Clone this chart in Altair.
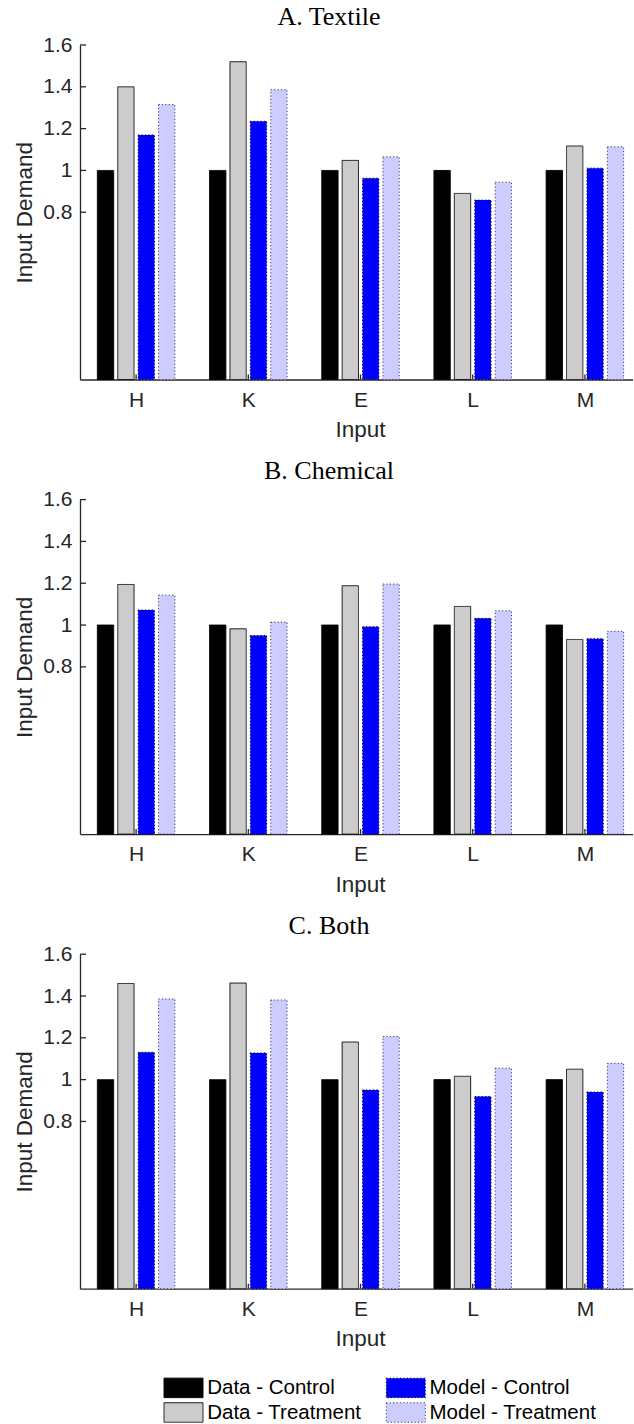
import altair as alt
import pandas as pd

inputs = ["H", "K", "E", "L", "M"]
series = ["Data - Control", "Data - Treatment", "Model - Control", "Model - Treatment"]
panels = ["A. Textile", "B. Chemical", "C. Both"]

# Panel A. Textile
textile_data_control = [1.0, 1.0, 1.0, 1.0, 1.0]
textile_data_treat = [1.40, 1.52, 1.048, 0.890, 1.117]
textile_model_control = [1.170, 1.235, 0.963, 0.858, 1.011]
textile_model_treat = [1.315, 1.386, 1.065, 0.944, 1.113]
# Panel B. Chemical
chem_data_control = [1.0, 1.0, 1.0, 1.0, 1.0]
chem_data_treat = [1.194, 0.982, 1.188, 1.089, 0.931]
chem_model_control = [1.072, 0.950, 0.992, 1.032, 0.935]
chem_model_treat = [1.143, 1.014, 1.196, 1.068, 0.970]
# Panel C. Both
both_data_control = [1.0, 1.0, 1.0, 1.0, 1.0]
both_data_treat = [1.460, 1.462, 1.180, 1.016, 1.050]
both_model_control = [1.131, 1.128, 0.951, 0.919, 0.941]
both_model_treat = [1.386, 1.381, 1.206, 1.055, 1.078]

y_ticks = [0.8, 1.0, 1.2, 1.4, 1.6]

panel_values = {
    "A. Textile": [textile_data_control, textile_data_treat, textile_model_control, textile_model_treat],
    "B. Chemical": [chem_data_control, chem_data_treat, chem_model_control, chem_model_treat],
    "C. Both": [both_data_control, both_data_treat, both_model_control, both_model_treat],
}

rows = []
for p in panels:
    for s_i, s in enumerate(series):
        for i, inp in enumerate(inputs):
            rows.append({"panel": p, "input": inp, "idx": i + 1, "sidx": s_i,
                         "series": s, "value": panel_values[p][s_i][i]})
df = pd.DataFrame(rows)
yt_df = pd.DataFrame({"value": y_ticks})
xt_df = pd.DataFrame({"x0": [i + 1 for i in range(len(inputs))]})

fills = {"Data - Control": "#000000", "Data - Treatment": "#cccccc",
         "Model - Control": "#0000ff", "Model - Treatment": "#ccccff"}
strokes = {"Data - Control": "#000000", "Data - Treatment": "#1a1a1a",
           "Model - Control": "#000022", "Model - Treatment": "#3d3d5c"}
dashes = {"Data - Control": [1, 0], "Data - Treatment": [1, 0],
          "Model - Control": [1.2, 2.2], "Model - Treatment": [1.2, 2.2]}

W = 553
H = 334.5
XMAX = 0.5 + W / 112.2
AX = "#262626"
SANS = "Liberation Sans"

label_expr = "[" + ",".join("'%s'" % s for s in inputs) + "][datum.value - 1]"

legend = alt.Legend(title=None, orient="none", legendX=93, legendY=1332, columns=2,
                    columnPadding=22.3, rowPadding=0,
                    symbolType="M-2,-1H2V1H-2Z", symbolSize=380.25, symbolStrokeWidth=1,
                    labelFont=SANS, labelFontSize=20.5, labelColor="#000000",
                    labelOffset=13.2, labelLimit=400)


def make_panel(p):
    base = alt.Chart(df).transform_filter(alt.datum.panel == p).transform_calculate(
        xc="datum.idx + (datum.sidx - 1.5) * 0.1818"
    ).transform_calculate(
        x0="datum.xc - 0.0727", x1="datum.xc + 0.0727"
    )
    xs = alt.Scale(domain=[0.5, XMAX], nice=False, zero=False)
    ys = alt.Scale(domain=[0, 1.6], nice=False, zero=True)
    bars = base.mark_bar(strokeWidth=1).encode(
        x=alt.X("x0:Q", scale=xs, title="Input",
                axis=alt.Axis(values=[1, 2, 3, 4, 5], labelExpr=label_expr, ticks=False,
                              tickSize=0, grid=False, domainColor=AX, domainWidth=1.3,
                              labelFont=SANS, labelFontSize=21, labelColor=AX, labelPadding=9.5,
                              titleFont=SANS, titleFontSize=22.5, titleFontWeight="normal",
                              titleColor=AX, titleX=280, titleY=57, titleBaseline="alphabetic",
                              titleAlign="center", labelFlush=False, labelOverlap=False)),
        x2="x1:Q",
        y=alt.Y("value:Q", scale=ys, stack=None, title="Input Demand",
                axis=alt.Axis(values=y_ticks, format="~g", ticks=False, tickSize=0, grid=False,
                              domainColor=AX, domainWidth=1.3,
                              labelFont=SANS, labelFontSize=21, labelColor=AX, labelPadding=8,
                              titleFont=SANS, titleFontSize=22.5, titleFontWeight="normal",
                              titleColor=AX, titleX=-48.3, titleY=H / 2,
                              titleBaseline="alphabetic", titleAlign="center",
                              labelFlush=False, labelOverlap=False)),
        y2=alt.datum(0),
        color=alt.Color("series:N", scale=alt.Scale(domain=series,
                                                    range=[fills[s] for s in series]),
                        legend=legend),
        stroke=alt.Stroke("series:N", scale=alt.Scale(domain=series,
                                                      range=[strokes[s] for s in series]),
                          legend=legend),
        strokeDash=alt.StrokeDash("series:N", scale=alt.Scale(domain=series,
                                                              range=[dashes[s] for s in series]),
                                  legend=legend),
    )
    ytick = alt.Chart(yt_df).mark_rule(color=AX, strokeWidth=1.3).encode(
        y=alt.Y("value:Q", scale=ys),
        x=alt.value(0), x2=alt.value(6),
    )
    xtick = alt.Chart(xt_df).mark_rule(color=AX, strokeWidth=1.3).encode(
        x=alt.X("x0:Q", scale=xs),
        y=alt.value(H), y2=alt.value(H - 5),
    )
    title = alt.Chart(pd.DataFrame({"t": [p]})).mark_text(
        font="Liberation Serif", fontSize=26, color="#000000", align="center",
        baseline="alphabetic"
    ).encode(text="t:N", x=alt.value(249), y=alt.value(-20.5))
    return alt.layer(bars, ytick, xtick, title).properties(width=W, height=H)


chart = alt.vconcat(*[make_panel(p) for p in panels], spacing=119.6, bounds="flush").properties(
    padding={"left": 13, "top": 3, "right": 0, "bottom": 0},
    background="white",
).configure_view(stroke=None)

chart.save("out.html", embed_options={"renderer": "svg", "actions": False})
